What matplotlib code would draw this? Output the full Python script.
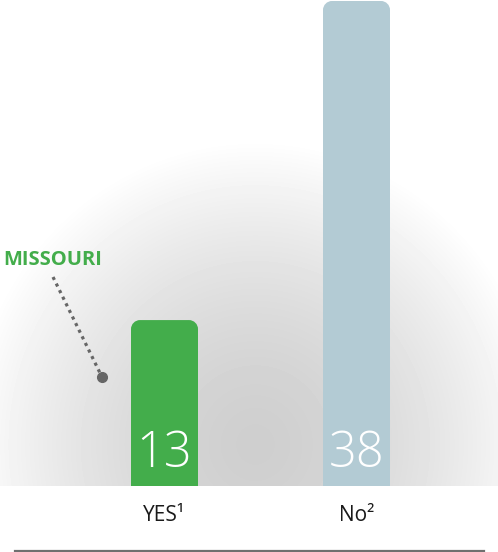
import numpy as np
import matplotlib
matplotlib.use("Agg")
import matplotlib.pyplot as plt
from matplotlib.path import Path
import matplotlib.patches as patches

# data
categories = ["YES¹", "No²"]
values = [13, 38]
bar_colors = ["#43ad4b", "#b3cbd4"]
callout = "MISSOURI"

W, H = 498, 552
dpi = 100.0
fig = plt.figure(figsize=(W / dpi, H / dpi), dpi=dpi, facecolor="white")

base = 66  # pixels from bottom to the bar baseline
plot_h = H - base - 1

# radial grey glow behind the bars
bg = fig.add_axes([0, base / H, 1, (H - base) / H], frameon=False)
yy, xx = np.mgrid[0:H - base, 0:W]
yy = (H - base) - yy
cx, cy = 255, 42
d = np.sqrt(((xx - cx) / 1.0) ** 2 + ((yy - cy) / 1.05) ** 2) / 290.0
d = np.clip(d, 0, 1)
shade = 0.81 + 0.19 * d ** 1.6
bg.imshow(shade, cmap="gray", vmin=0, vmax=1, origin="upper",
          extent=[0, W, 0, H - base], aspect="auto", interpolation="bilinear")
bg.set_xticks([]), bg.set_yticks([])

ax = fig.add_axes([0, base / H, 1, plot_h / H], frameon=False)
ax.patch.set_alpha(0)
px_per_x = 192.0
x0 = 164.5
ax.set_xlim(-x0 / px_per_x, (W - x0) / px_per_x)
ax.set_ylim(0, 38)
px_per_y = plot_h / 38.0
width = 67 / px_per_x

bars = ax.bar(range(len(values)), values, width=width, color=bar_colors, alpha=0)

# rounded top corners
r = 9.0
rx, ry = r / px_per_x, r / px_per_y
k = 0.5523
for rect, c in zip(bars, bar_colors):
    xl, w, h = rect.get_x(), rect.get_width(), rect.get_height()
    xr = xl + w
    verts = [(xl, 0), (xl, h - ry),
             (xl, h - ry + k * ry), (xl + rx - k * rx, h), (xl + rx, h),
             (xr - rx, h),
             (xr - rx + k * rx, h), (xr, h - ry + k * ry), (xr, h - ry),
             (xr, 0), (xl, 0)]
    codes = [Path.MOVETO, Path.LINETO,
             Path.CURVE4, Path.CURVE4, Path.CURVE4,
             Path.LINETO,
             Path.CURVE4, Path.CURVE4, Path.CURVE4,
             Path.LINETO, Path.CLOSEPOLY]
    ax.add_patch(patches.PathPatch(Path(verts, codes), facecolor=c, edgecolor="none"))

for i, v in enumerate(values):
    ax.text(i, 1.45, str(v), ha="center", va="baseline", color="white",
            fontsize=35, family="Open Sans", weight="light")

ax.set_xticks([]), ax.set_yticks([])

for i, lab in enumerate(categories):
    fig.text((x0 + i * px_per_x) / W, 1 - 521 / H, lab, ha="center", va="baseline",
             fontsize=15, family="Open Sans", color="#1a1a1a")

# callout
fig.text(3 / W, 1 - 265 / H, callout, ha="left", va="baseline", color="#43ad4b",
         fontsize=14.5, family="Open Sans", weight="bold")
fig.add_artist(plt.Line2D([53 / W, 101 / W], [1 - 277 / H, 1 - 375 / H],
                          transform=fig.transFigure, color="#666666", lw=2.3,
                          linestyle=(0, (1.0, 1.3))))
fig.add_artist(plt.Line2D([102 / W], [1 - 377 / H], transform=fig.transFigure,
                          marker="o", markersize=7, color="#666666", lw=0))

# rule at the bottom
fig.add_artist(plt.Line2D([15 / W, 484 / W], [1 - 550.5 / H] * 2,
                          transform=fig.transFigure, color="#6f6f6f", lw=1.6))

fig.savefig("out.png", dpi=dpi)
